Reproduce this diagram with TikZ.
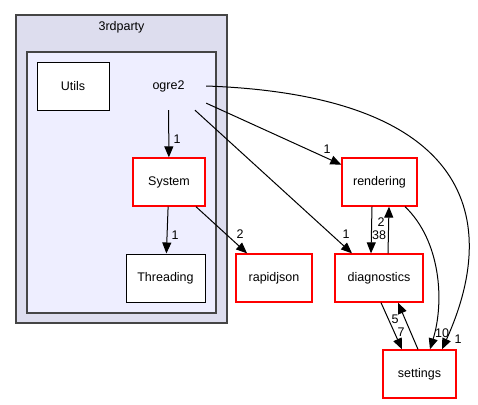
\documentclass[tikz,border=0pt]{standalone}
\usepackage{fontspec}
\setmainfont{Liberation Sans}
\usetikzlibrary{arrows.meta}
\definecolor{outerfill}{HTML}{DDDDEE}
\definecolor{innerfill}{HTML}{EEEEFF}
\definecolor{clusterline}{HTML}{454545}

\begin{document}
\begin{tikzpicture}[x=1pt, y=-1pt,
  font=\fontsize{12.5}{15}\selectfont,
  >={Triangle[length=11pt,width=9pt]},
  dir/.style={draw, fill=white, minimum height=48pt, inner sep=0pt,
              line width=1pt},
  pkg/.style={dir, draw=red, line width=1.3pt},
  lbl/.style={inner sep=0pt},
  dep/.style={->, line width=1pt},
]
\useasboundingbox (0,0) rectangle (478,404);

% Clusters (drawn first, behind everything)
\draw[clusterline, fill=outerfill, line width=1.3pt] (16,15) rectangle (227,323);
\node (thirdparty) at (121.5,27) {3rdparty};
\draw[clusterline, fill=innerfill, line width=1.3pt] (27,52) rectangle (216,313);

% Directories inside ogre2
\node[dir, minimum width=72pt] (utils) at (73,86) {Utils};
\node[minimum width=75pt, minimum height=48pt, inner sep=0pt] (ogre2) at (168.5,86) {ogre2};
\node[pkg, minimum width=72pt] (system) at (169,182) {System};
\node[dir, minimum width=79pt] (threading) at (165.5,278) {Threading};

% Directories outside
\node[pkg, minimum width=75pt] (rendering) at (379.5,182) {rendering};
\node[pkg, minimum width=76pt] (rapidjson) at (274,278) {rapidjson};
\node[pkg, minimum width=88pt] (diagnostics) at (379,278) {diagnostics};
\node[pkg, minimum width=73pt] (settings) at (419.5,374) {settings};

% Dependencies
\draw[dep] (ogre2) -- (system) node[lbl] at (177,139) {1};
\draw[dep] (system) -- (threading) node[lbl] at (175,235) {1};
\draw[dep] (system) -- (rapidjson) node[lbl] at (240,234) {2};
\draw[dep] (ogre2) -- (rendering) node[lbl] at (327,149) {1};
\draw[dep] (ogre2) -- (diagnostics) node[lbl] at (346,234) {1};
\draw[dep] (ogre2.east) .. controls (460,95) and (505,210)
  .. ([xshift=22.5pt]settings.north) node[lbl] at (458,339) {1};
\draw[dep] ([xshift=-7.5pt]rendering.south) -- ([xshift=-8pt]diagnostics.north)
  node[lbl] at (379,235) {38};
\draw[dep] ([xshift=9pt]diagnostics.north) -- ([xshift=9.5pt]rendering.south)
  node[lbl] at (381,222) {2};
\draw[dep] ([xshift=25.5pt]rendering.south) .. controls (440,240) and (445,300)
  .. ([xshift=10.5pt]settings.north) node[lbl] at (442,333) {10};
\draw[dep] ([xshift=2pt]diagnostics.south) -- ([xshift=-17.5pt]settings.north)
  node[lbl] at (401,332) {7};
\draw[dep] ([xshift=-1.5pt]settings.north) -- ([xshift=19pt]diagnostics.south)
  node[lbl] at (395,319) {5};

\end{tikzpicture}
\end{document}
